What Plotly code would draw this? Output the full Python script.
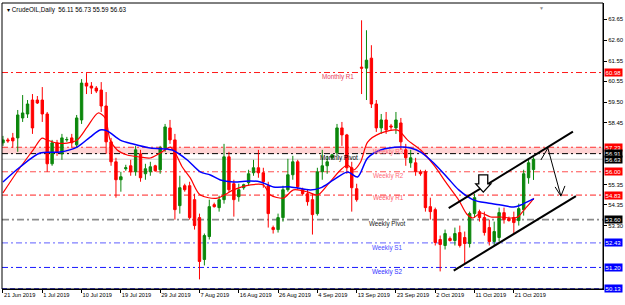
import plotly.graph_objects as go

# ---------------- data ----------------
date_labels = ["21 Jun 2019", "1 Jul 2019", "10 Jul 2019", "19 Jul 2019", "29 Jul 2019",
               "7 Aug 2019", "16 Aug 2019", "26 Aug 2019", "4 Sep 2019", "13 Sep 2019",
               "23 Sep 2019", "2 Oct 2019", "11 Oct 2019", "21 Oct 2019"]
date_bars = [0, 8, 16, 24, 32, 40, 48, 56, 64, 72, 80, 88, 96, 104]

opens = [57.45, 57.6, 57.7, 57.7, 58.7, 58.9, 59.6, 59.6, 59.6, 58.9,
         56.4, 57.45, 56.9, 57.6, 57.7, 57.35, 58.6, 60.45, 60.3, 60.2,
         60.1, 59.3, 57.5, 56.5, 55.6, 56.15, 56.3, 56.0, 56.9, 55.9,
         56.0, 56.3, 56.1, 57.2, 58.2, 57.6, 54.3, 55.3, 55.3, 54.6,
         53.7, 51.6, 52.75, 54.35, 54.2, 54.6, 56.75, 55.4, 54.75, 55.2,
         55.45, 55.95, 56.2, 55.95, 55.3, 53.2, 53.1, 53.7, 55.1, 55.85,
         56.5, 55.1, 54.9, 54.6, 53.9, 56.0, 56.3, 56.7, 56.95, 58.2,
         57.85, 56.2, 55.15, 61.25, 61.2, 61.7, 59.4, 58.2, 58.6, 58.3,
         58.2, 58.45, 57.1, 56.45, 56.45, 56.0, 56.0, 54.25, 54.1, 52.6,
         52.3, 52.65, 52.55, 52.95, 52.7, 52.4, 53.9, 54.0, 53.7, 53.2,
         52.5, 52.7, 53.95, 53.65, 53.7, 53.55, 54.1, 55.7, 56.11]
highs = [57.8, 57.7, 57.95, 59.1, 59.85, 59.6, 59.9, 59.8, 60.25, 59.0,
         57.6, 57.6, 57.9, 57.75, 57.9, 58.85, 60.65, 60.95, 60.5, 60.3,
         60.5, 60.0, 57.7, 56.7, 56.0, 56.35, 56.6, 57.3, 57.1, 56.4,
         56.5, 56.35, 57.3, 58.4, 58.6, 57.9, 55.8, 55.4, 55.5, 54.9,
         53.9, 52.9, 54.6, 54.45, 54.8, 57.4, 57.0, 55.6, 55.4, 55.4,
         56.1, 56.6, 57.1, 56.2, 55.5, 53.3, 53.9, 55.3, 56.65, 56.8,
         56.6, 55.2, 55.1, 54.9, 56.2, 57.1, 56.8, 56.9, 58.4, 58.5,
         57.9, 56.5, 55.4, 63.6, 63.1, 62.35, 59.6, 58.9, 59.0, 58.4,
         59.0, 58.7, 57.4, 57.1, 56.7, 56.1, 56.1, 54.7, 54.2, 52.8,
         53.1, 52.75, 53.2, 53.3, 53.0, 54.0, 54.9, 54.1, 54.0, 53.6,
         53.5, 54.2, 54.2, 53.75, 54.0, 54.4, 56.1, 56.6, 56.73]
lows = [57.3, 57.45, 57.2, 57.0, 58.5, 58.7, 57.9, 59.4, 58.5, 56.0,
        56.3, 56.8, 56.6, 57.5, 57.2, 57.2, 58.4, 59.9, 59.9, 59.95,
        59.0, 56.9, 56.3, 54.7, 55.0, 56.05, 55.8, 55.8, 55.5, 55.6,
        55.8, 56.0, 55.9, 57.0, 57.4, 53.6, 53.9, 55.0, 53.6, 53.1,
        50.6, 51.3, 52.6, 54.2, 54.0, 54.4, 55.0, 53.75, 54.5, 55.1,
        55.3, 55.8, 55.7, 55.2, 53.2, 52.9, 52.95, 53.5, 55.0, 55.6,
        55.1, 54.8, 54.3, 52.85, 53.8, 55.6, 55.9, 56.6, 56.8, 57.3,
        55.9, 54.0, 54.5, 59.9, 59.6, 59.2, 58.0, 57.9, 57.9, 58.1,
        57.9, 57.1, 56.3, 56.2, 55.8, 55.8, 54.0, 53.6, 52.3, 51.0,
        52.1, 52.5, 52.3, 52.2, 51.4, 52.2, 53.7, 53.5, 52.8, 52.3,
        52.3, 52.5, 53.4, 53.5, 52.9, 53.3, 53.8, 55.4, 55.59]
closes = [57.6, 57.55, 57.55, 58.85, 58.95, 59.4, 58.2, 59.45, 58.9, 56.4,
          57.45, 57.0, 57.7, 57.62, 57.45, 58.7, 60.45, 60.3, 60.2, 60.05,
          59.3, 57.5, 56.5, 55.6, 55.75, 56.2, 56.0, 57.1, 55.7, 56.15,
          56.25, 56.05, 57.2, 58.25, 57.6, 54.1, 55.2, 55.1, 53.7, 53.3,
          51.5, 52.8, 54.25, 54.25, 54.6, 56.75, 55.1, 54.6, 55.1, 55.35,
          55.9, 56.2, 55.95, 55.5, 53.9, 53.1, 53.7, 55.1, 55.85, 56.5,
          55.25, 54.9, 54.5, 53.85, 56.0, 56.3, 56.5, 56.85, 58.2, 57.85,
          56.2, 55.2, 54.6, 61.2, 61.6, 59.4, 58.2, 58.6, 58.1, 58.25,
          58.6, 57.5, 56.7, 56.7, 56.0, 55.9, 54.2, 54.0, 52.45, 52.35,
          52.9, 52.55, 52.9, 52.3, 52.4, 53.9, 54.7, 53.7, 52.95, 52.5,
          53.0, 53.95, 53.6, 53.55, 53.45, 54.15, 55.9, 56.45, 56.63]

# moving averages (bar position, value)
red_ma_bar = [0.0, 2.85, 6.12, 7.95, 8.97, 11.0, 13.05, 15.09, 17.13, 19.37, 20.8, 21.82, 23.25,
              25.29, 27.94, 29.98, 32.01, 34.05, 35.07, 36.5, 38.13, 40.17, 43.64, 46.9, 50.37,
              53.02, 54.45, 57.1, 59.14, 61.99, 64.03, 66.07, 68.72, 70.15, 71.37, 72.8, 74.23,
              76.88, 80.34, 82.38, 85.03, 87.68, 90.54, 92.78, 94.41, 95.64, 97.27, 99.31,
              101.35, 103.39, 104.81, 106.04, 107.46, 108.08]
red_ma_val = [54.94, 55.99, 57.09, 57.69, 57.59, 57.44, 57.44, 57.59, 58.24, 58.95, 58.70, 57.59, 57.09,
              56.84, 56.74, 56.69, 56.94, 57.24, 56.94, 56.24, 55.69, 54.83, 54.68, 55.09, 55.34,
              55.34, 54.83, 54.68, 55.09, 54.99, 54.83, 55.34, 56.09, 56.34, 56.09, 56.49, 57.49,
              57.94, 58.09, 57.59, 57.09, 56.34, 55.34, 54.58, 53.88, 53.68, 53.93, 53.73,
              53.73, 53.68, 53.73, 54.08, 54.48, 54.68]
blue_ma_bar = [0.0, 3.47, 7.55, 11.62, 15.09, 17.74, 19.78, 21.21, 23.86, 26.51, 29.98, 33.44, 34.46,
               37.52, 40.17, 42.21, 44.25, 46.9, 50.37, 52.41, 55.06, 58.52, 62.6, 64.64, 67.29,
               70.15, 72.19, 74.23, 76.88, 80.95, 82.99, 85.03, 87.68, 90.54, 92.78, 95.84,
               98.69, 101.35, 103.99, 105.42, 107.46, 108.08]
blue_ma_val = [55.49, 56.24, 56.94, 56.99, 57.24, 57.74, 58.10, 58.05, 57.59, 57.39, 57.19, 57.14, 57.09,
               56.59, 55.99, 55.84, 55.59, 55.49, 55.54, 55.49, 55.24, 55.24, 55.09, 55.19, 55.59,
               55.99, 55.74, 56.69, 57.09, 57.24, 57.19, 56.99, 56.44, 55.69, 55.09, 54.58,
               54.43, 54.33, 54.23, 54.33, 54.58, 54.63]

# pivot levels
level_names = ["Monthly R1", "Weekly R3", "Monthly Pivot", "Weekly R2", "Weekly R1",
               "Weekly Pivot", "Weekly S1", "Weekly S2", "Weekly S3"]
level_values = [60.98, 57.23, 56.91, 56.00, 54.83, 53.60, 52.43, 51.20, 50.13]
current_price = 56.63
price_ticks = [63.65, 62.60, 61.55, 60.55, 59.50, 58.45, 55.35, 54.35, 53.30]

# ---------------- styles ----------------
DD = "6px,3px,2px,3px"
level_style = {
    "Monthly R1": dict(color="#ff1a1a", dash=DD, width=1, lab="#e8415a", lx=64.6, show=True),
    "Weekly R3": dict(color="#ff3030", dash=DD, width=1, lab="#ff6b7a", lx=75.0, show=True),
    "Monthly Pivot": dict(color="#000000", dash=DD, width=1, lab="#000000", lx=64.2, show=True),
    "Weekly R2": dict(color="#ff5050", dash=DD, width=1, lab="#ff6b7a", lx=75.0, show=True),
    "Weekly R1": dict(color="#ff2020", dash=DD, width=1, lab="#ff5a6a", lx=75.0, show=True),
    "Weekly Pivot": dict(color="#8c8c8c", dash="7px,3px,2px,3px", width=1.6, lab="#202020", lx=74.2, show=True),
    "Weekly S1": dict(color="#8080ff", dash=DD, width=1.2, lab="#4a4aff", lx=74.8, show=True),
    "Weekly S2": dict(color="#1a1aff", dash=DD, width=1, lab="#3030ff", lx=74.8, show=True),
    "Weekly S3": dict(color="#1a1aff", dash="5px,3px", width=1.2, lab="#3030ff", lx=74.8, show=False),
}
label_offsets = {  # vertical offset of text below the line, in price units
    "Monthly R1": -0.24, "Weekly R3": -0.25, "Monthly Pivot": -0.22, "Weekly R2": -0.22,
    "Weekly R1": -0.16, "Weekly Pivot": -0.22, "Weekly S1": -0.26, "Weekly S2": -0.23, "Weekly S3": 0,
}
tag_colors = {60.98: "#ff0000", 57.23: "#ff0000", 56.91: "#000000", 56.63: "#000000",
              56.00: "#ff0000", 54.83: "#ff0000", 53.60: "#000000", 52.43: "#0000ff",
              51.20: "#0000ff", 50.13: "#0000ff"}

FONT = "Liberation Sans, Arial, sans-serif"
bars = list(range(len(closes)))

fig = go.Figure()

# pink zone between weekly R3 and monthly pivot
fig.add_shape(type="rect", xref="paper", x0=0, x1=1, yref="y", y0=56.91, y1=57.23,
              fillcolor="#ffd3d3", line=dict(width=0), layer="below")
# current price line
fig.add_shape(type="line", xref="paper", x0=0, x1=1, yref="y", y0=current_price, y1=current_price,
              line=dict(color="#c8c8c8", width=1), layer="below")

for name, val in zip(level_names, level_values):
    st = level_style[name]
    fig.add_shape(type="line", xref="paper", x0=0, x1=1, yref="y", y0=val, y1=val,
                  line=dict(color=st["color"], width=st["width"], dash=st["dash"]), layer="below")
    if st["show"]:
        fig.add_annotation(x=st["lx"], y=val + label_offsets[name], xref="x", yref="y",
                           text=name, showarrow=False, xanchor="left", yanchor="middle",
                           font=dict(family=FONT, size=6.3, color=st["lab"]))

fig.add_trace(go.Candlestick(
    x=bars, open=opens, high=highs, low=lows, close=closes,
    increasing=dict(line=dict(color="#0b870b", width=1), fillcolor="#0b870b"),
    decreasing=dict(line=dict(color="#ff0000", width=1), fillcolor="#ff0000"),
    whiskerwidth=0, showlegend=False, hoverinfo="skip"))

fig.add_trace(go.Scatter(x=red_ma_bar, y=red_ma_val, mode="lines",
                         line=dict(color="#ff0000", width=1.2, shape="spline", smoothing=0.8),
                         showlegend=False, hoverinfo="skip"))
fig.add_trace(go.Scatter(x=blue_ma_bar, y=blue_ma_val, mode="lines",
                         line=dict(color="#0000ff", width=1.5, shape="spline", smoothing=0.8),
                         showlegend=False, hoverinfo="skip"))

# drawn objects: channel lines
channel_upper = [(90.74, 54.18), (116.03, 58.01)]
channel_lower = [(91.76, 51.04), (116.64, 54.78)]
for seg in (channel_upper, channel_lower):
    fig.add_shape(type="line", xref="x", yref="y", x0=seg[0][0], y0=seg[0][1], x1=seg[1][0], y1=seg[1][1],
                  line=dict(color="#000000", width=2))

# hollow down arrow
arrow_pts = [(96.86, 55.84), (98.69, 55.84), (98.69, 55.39), (99.31, 55.39), (97.78, 54.98),
             (96.25, 55.39), (96.86, 55.39)]
path = "M " + " L ".join(f"{a},{b}" for a, b in arrow_pts) + " Z"
fig.add_shape(type="path", xref="x", yref="y", path=path, fillcolor="white",
              line=dict(color="#000000", width=1.3))

# hand drawn zig-zag arrow
zig = [(109.5, 56.59), (110.93, 57.19), (113.58, 54.78)]
for (a, b), (c, d) in zip(zig[:-1], zig[1:]):
    fig.add_shape(type="line", xref="x", yref="y", x0=a, y0=b, x1=c, y1=d, line=dict(color="#000000", width=1))
for hx, hy in [(112.4, 55.24), (114.4, 55.29)]:
    fig.add_shape(type="line", xref="x", yref="y", x0=hx, y0=hy, x1=113.58, y1=54.78, line=dict(color="#000000", width=1))

# price tags on the right axis
for val, col in tag_colors.items():
    fig.add_annotation(x=1, y=val, xref="paper", yref="y", text=f"{val:.2f}", showarrow=False,
                       xanchor="left", yanchor="middle", xshift=1, bgcolor=col, borderpad=0.6,
                       font=dict(family=FONT, size=6, color="white"))

# header
fig.add_annotation(x=0, y=1, xref="paper", yref="paper", xanchor="left", yanchor="top", xshift=3, yshift=-1,
                   text="▾ CrudeOIL,Daily  56.11 56.73 55.59 56.63", showarrow=False,
                   font=dict(family=FONT, size=6.3, color="#000000"))
fig.add_annotation(x=109.7, y=1, xref="x", yref="paper", xanchor="center", yanchor="top", yshift=0,
                   text="▼", showarrow=False, font=dict(family=FONT, size=5, color="#909090"))

# frame
fig.add_shape(type="rect", xref="paper", yref="paper", x0=0, x1=1, y0=0, y1=1,
              line=dict(color="#000000", width=1))

fig.update_layout(
    width=625, height=305, margin=dict(l=2, r=22, t=3, b=16, autoexpand=False),
    paper_bgcolor="white", plot_bgcolor="white", showlegend=False,
    xaxis=dict(range=[-0.2, 122.15], tickvals=date_bars, ticktext=date_labels, tickangle=0,
               ticks="outside", ticklen=3, tickcolor="#000000", showgrid=False, zeroline=False,
               showline=True, linecolor="#000000", ticklabelposition="outside right",
               automargin=False,
               tickfont=dict(family=FONT, size=5.7, color="#000000"),
               rangeslider=dict(visible=False), fixedrange=True),
    yaxis=dict(range=[50.118, 64.468], side="right", tickvals=price_ticks,
               ticktext=[f"{v:.2f}" for v in price_ticks], ticks="outside", ticklen=3,
               tickcolor="#000000", showgrid=False, zeroline=False, showline=True, automargin=False,
               linecolor="#000000", tickfont=dict(family=FONT, size=6, color="#000000"),
               fixedrange=True),
)

fig.write_html("out.html")
